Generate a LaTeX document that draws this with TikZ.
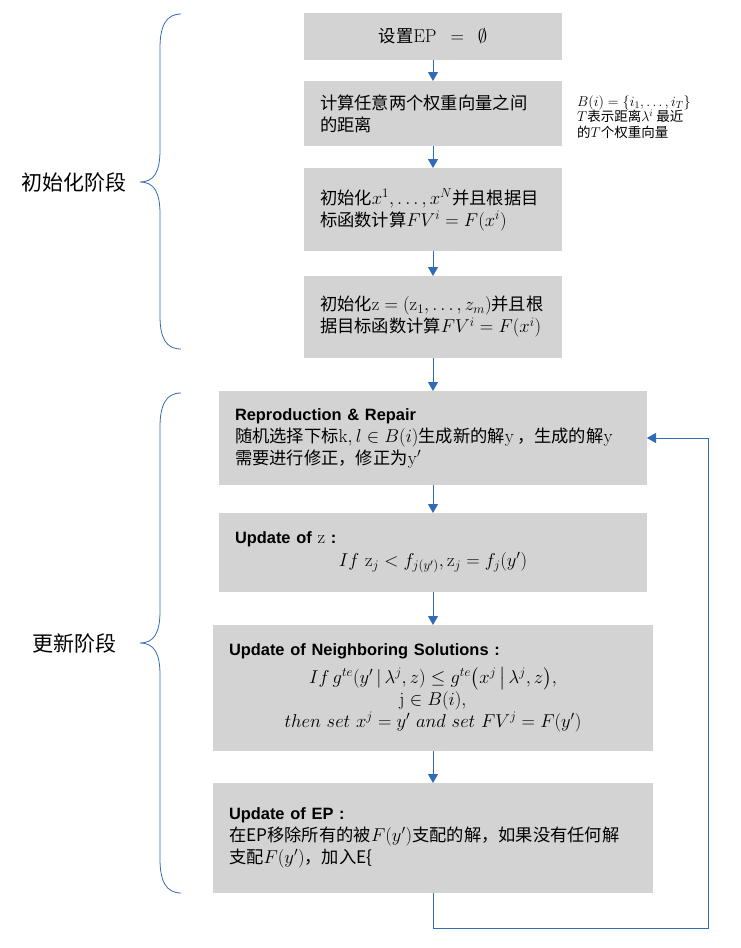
\documentclass[tikz,border=0pt]{standalone}
\usepackage{fix-cm}
\usepackage{amsmath}
\usepackage{amssymb}
\usepackage[no-math]{fontspec}
\setmainfont{Noto Sans CJK SC}
\newfontfamily\headfont{Liberation Sans}
\usepackage{tikz}
\usetikzlibrary{positioning,arrows.meta}
\DeclareMathSizes{17.28}{18.6}{13}{10}
\DeclareMathSizes{13.5}{14.2}{10}{7}
\definecolor{flowblue}{RGB}{46,108,186}
\definecolor{boxgray}{RGB}{211,211,211}
\newcommand{\stagehead}[1]{{\headfont\bfseries\fontsize{16.4}{22}\selectfont #1}}

\begin{document}
\begin{tikzpicture}[x=1pt,y=1pt,
		stage/.style={fill=boxgray,inner sep=0pt,outer sep=0pt,inner xsep=16pt,align=left,font=\fontsize{17.28}{22}\selectfont},
		flow/.style={draw=flowblue,line width=0.9pt,-{Triangle[length=9pt,width=10pt]}},
		bracket/.style={draw=flowblue,line width=0.8pt},
		phase/.style={font=\fontsize{21}{25}\selectfont},
		note/.style={align=left,inner sep=0pt,font=\fontsize{13.5}{15.5}\selectfont}]
	\useasboundingbox (0,0) rectangle (740,-948);
	% initialisation
	\node[stage,align=center,text width=226pt,minimum height=47pt] (init) at (433,-36.5) {设置$\mathrm{EP}=\emptyset$};
	\node[stage,text width=226pt,minimum height=65pt,below=21pt of init] (dist) {计算任意两个权重向量之间\\的距离};
	\node[stage,text width=226pt,minimum height=83pt,below=22pt of dist] (indiv) {初始化$x^1,\dots,x^N$并且根据目\\标函数计算$FV^i=F(x^i)$};
	\node[stage,text width=226pt,minimum height=82pt,below=25pt of indiv] (ideal) {初始化$\mathrm{z}=(\mathrm{z}_1,\dots,z_m)$并且根\\据目标函数计算$FV^i=F(x^i)$};
	\node[note,anchor=west] (nbhd) at (577,-117) {$B(i)=\{i_1,\dots,i_T\}$\\$T$表示距离$\lambda^i$\ 最近\\的$T$个权重向量};
	% update
	\node[stage,text width=396pt,minimum height=94pt,below=33pt of ideal] (repro) {\stagehead{Reproduction \& Repair}\\随机选择下标$\mathrm{k}, l\in B(i)$生成新的解$\mathrm{y}$\,，生成的解$\mathrm{y}$\\需要进行修正，修正为$\mathrm{y}'$};
	\node[stage,text width=396pt,minimum height=79pt,below=28pt of repro] (upz) {\stagehead{Update of} $\mathrm{z}$ \stagehead{:}\\[1pt]
		\makebox[\linewidth]{$If\ \mathrm{z}_j<f_{j(y')},\mathrm{z}_j=f_j(y')$}};
	\node[stage,text width=408pt,minimum height=126pt,below=33pt of upz] (upnb) {\stagehead{Update of Neighboring Solutions :}\\[6pt]
		\makebox[\linewidth]{$If\,g^{te}(y'\,|\,\lambda^j,z)\le g^{te}\bigl(x^j\,\big|\,\lambda^j,z\bigr),$}\\
		\makebox[\linewidth]{$\mathrm{j}\in B(i),$}\\
		\makebox[\linewidth]{$then\ set\ x^j=y'\ and\ set\ FV^j=F(y')$}};
	\node[stage,text width=408pt,minimum height=110pt,below=32pt of upnb] (upep) {\stagehead{Update of EP :}\\在EP移除所有的被$F(y')$支配的解，如果没有任何解\\支配$F(y')$，加入E\{};
	% phases
	\node[phase] (initphase) at (74,-182) {初始化阶段};
	\node[phase] (updphase) at (74,-643) {更新阶段};
	\draw[bracket] (181,-14) .. controls (166,-14) and (160,-26) .. (160,-48) -- (160,-150)
		.. controls (160,-172) and (154,-182) .. (140,-182)
		.. controls (154,-182) and (160,-192) .. (160,-214) -- (160,-316)
		.. controls (160,-338) and (166,-349) .. (181,-349);
	\draw[bracket] (181,-393) .. controls (166,-393) and (160,-405) .. (160,-427) -- (160,-611)
		.. controls (160,-633) and (154,-643) .. (140,-643)
		.. controls (154,-643) and (160,-653) .. (160,-675) -- (160,-859)
		.. controls (160,-881) and (166,-893) .. (181,-893);
	% connectors
	\draw[flow] (init.south) -- (dist.north);
	\draw[flow] (dist.south) -- (indiv.north);
	\draw[flow] (indiv.south) -- (ideal.north);
	\draw[flow] (ideal.south) -- (repro.north);
	\draw[flow] (repro.south) -- (upz.north);
	\draw[flow] (upz.south) -- (upnb.north);
	\draw[flow] (upnb.south) -- (upep.north);
	\coordinate (turn) at ([yshift=-35pt]upep.south);
	\coordinate (back) at ([xshift=61pt]repro.east);
	\draw[flow] (upep.south) -- (turn) -| (back) -- (repro.east);
\end{tikzpicture}
\end{document}
